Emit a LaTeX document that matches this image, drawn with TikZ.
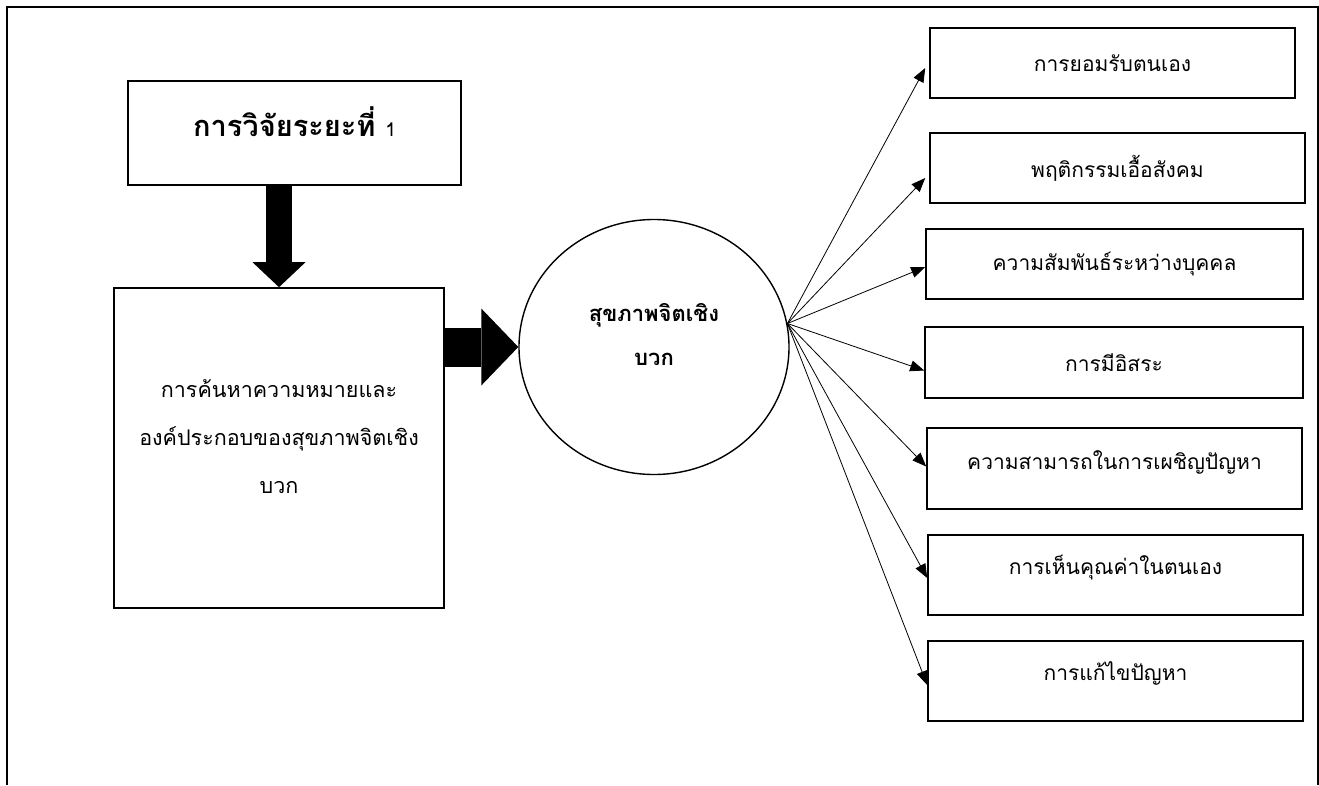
\documentclass[tikz,border=0pt]{standalone}
\usepackage{fontspec}
\newfontfamily\thai[Script=Thai]{Loma}
\usetikzlibrary{arrows.meta,shapes.geometric}
\newcommand\upshift[2]{\raisebox{#1}[\height][\depth]{#2}}

\begin{document}
\begin{tikzpicture}[x=1pt, y=-1pt]
        \tikzstyle{every node}=[font=\thai\fontsize{21}{25}\selectfont, inner sep=0pt]
        \tikzstyle{stagebox}=[draw, line width=1.6pt]
        \tikzstyle{factorbox}=[draw, line width=1.6pt, minimum width=375pt, minimum height=70pt]
        \tikzstyle{fat}=[line width=#1, -{Triangle[length=25pt, width=53pt, line width=0pt]}]
        \tikzstyle{link}=[line width=0.8pt, -{Triangle[length=14pt, width=11pt]}]

        \useasboundingbox (0,0) rectangle (1319,785);
        \draw[line width=1.4pt] (7,785) -- (7,7) -- (1318,7) -- (1318,785);

% research phase 1 and the positive mental health components

        \node[stagebox, minimum width=333pt, minimum height=104pt] (phase) at (294.5,133)
            {\upshift{11pt}{\fontsize{29}{34}\selectfont\textbf{การวิจัยระยะที่} {\fontsize{19}{22}\selectfont 1}}};
        \node[stagebox, minimum width=330pt, minimum height=320pt] (search) at (279,448)
            {\upshift{12pt}{\fontsize{21.5}{48}\selectfont\begin{tabular}{@{}c@{}}การค้นหาความหมายและ\\องค์ประกอบของสุขภาพจิตเชิง\\บวก\end{tabular}}};
        \node[ellipse, draw, line width=1.4pt, minimum width=270pt, minimum height=255pt] (health) at (654,347)
            {\upshift{12pt}{\fontsize{22}{44}\selectfont\bfseries\begin{tabular}{@{}c@{}}สุขภาพจิตเชิง\\บวก\end{tabular}}};
        \coordinate (fan) at (health.10);

        \node[factorbox, minimum width=365pt] (accept) at (1112.5,63) {การยอมรับตนเอง};
        \node[factorbox] (social) at (1117.5,168) {พฤติกรรมเอื้อสังคม};
        \node[factorbox, minimum width=377pt] (relation) at (1114.5,264) {ความสัมพันธ์ระหว่างบุคคล};
        \node[factorbox, minimum width=378pt, minimum height=71pt] (freedom) at (1114,362.5) {การมีอิสระ};
        \node[factorbox, minimum height=81pt] (coping) at (1114.5,468.5) {\upshift{6pt}{ความสามารถในการเผชิญปัญหา}};
        \node[factorbox, minimum height=80pt] (worth) at (1115.5,575) {\upshift{7pt}{การเห็นคุณค่าในตนเอง}};
        \node[factorbox, minimum height=80pt] (solve) at (1115.5,681) {\upshift{8pt}{การแก้ไขปัญหา}};

        \draw[fat=26pt] (search.north |- phase.south) -- (search.north);
        \draw[line width=39pt, -{Triangle[length=37pt, width=77pt, line width=0pt]}] (search.east |- health.west) -- (health.west);

        \draw[link] (fan) -- ([xshift=-4pt, yshift=-5pt]accept.west);
        \draw[link] (fan) -- ([xshift=-4pt, yshift=-10pt]social.west);
        \draw[link] (fan) -- ([yshift=-3pt]relation.west);
        \draw[link] (fan) -- ([yshift=-8pt]freedom.west);
        \draw[link] (fan) -- ([yshift=2pt]coping.west);
        \draw[link] (fan) -- ([yshift=-3pt]worth.west);
        \draw[link] (fan) -- ([yshift=-4pt]solve.west);

    \end{tikzpicture}
\end{document}
